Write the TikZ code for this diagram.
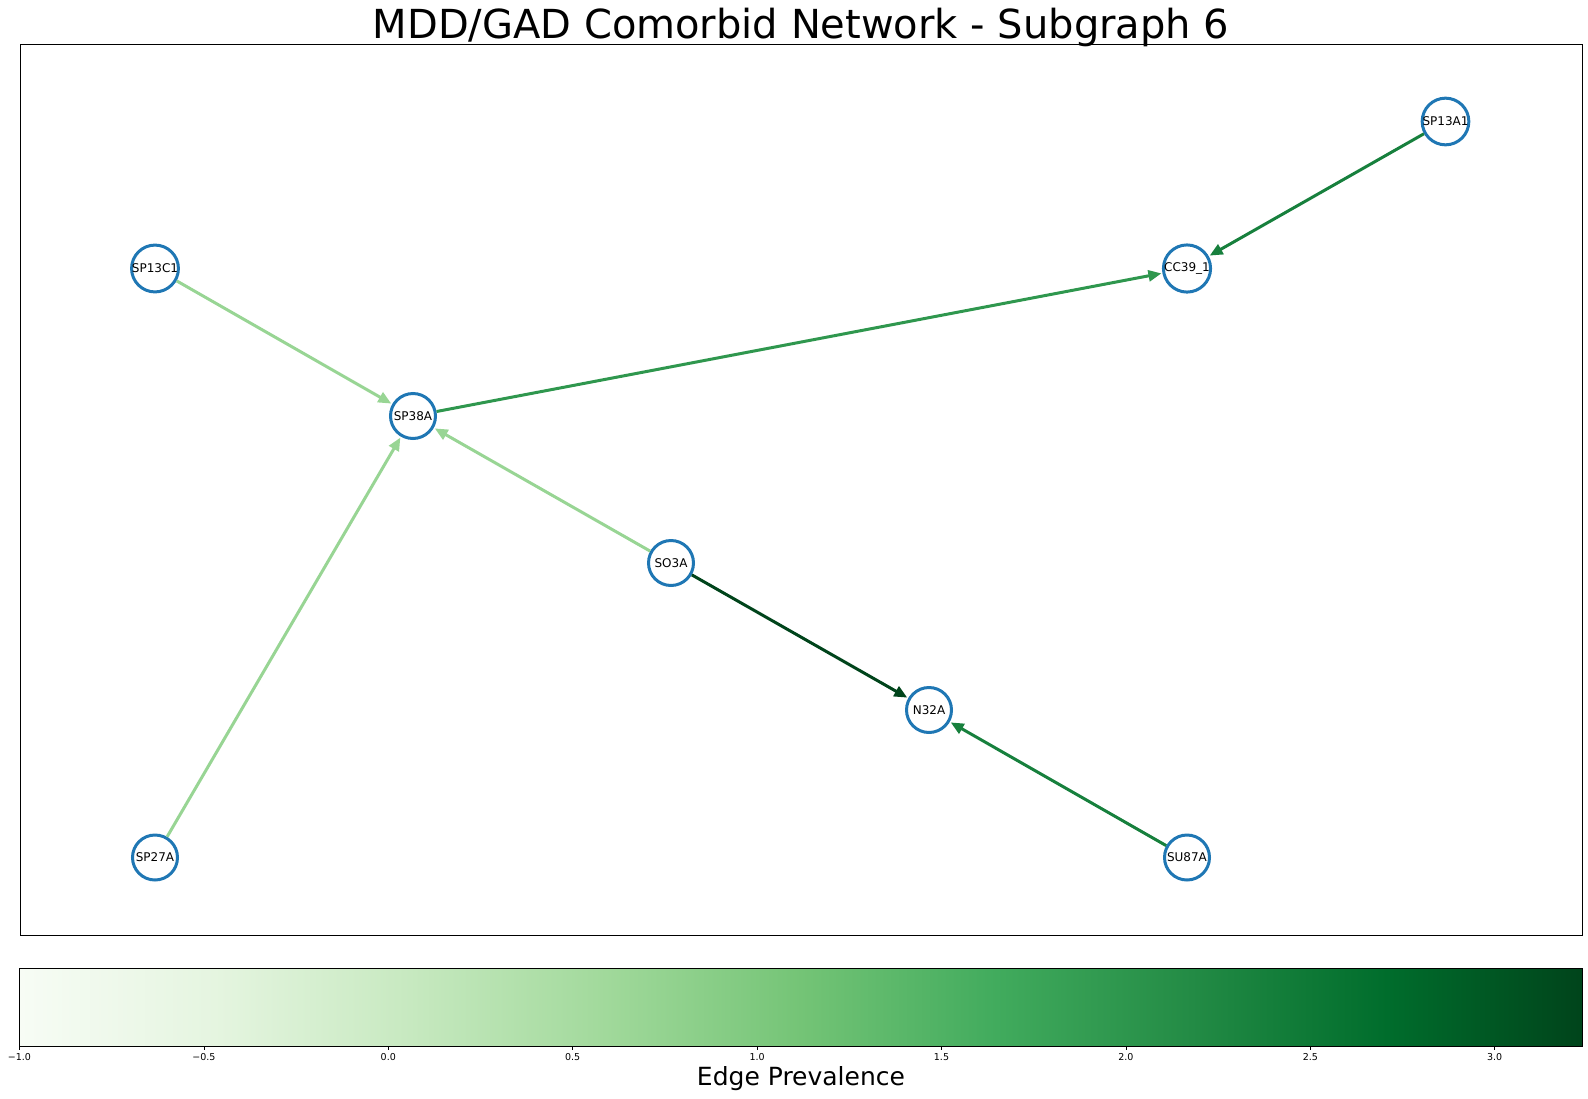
\documentclass[tikz,border=0pt]{standalone}
\usepackage{fontspec}
\setmainfont{DejaVu Sans}
\usetikzlibrary{arrows.meta}

% Greens colour map stops
\definecolor{g0}{HTML}{F7FCF5}
\definecolor{g1}{HTML}{E5F5E0}
\definecolor{g2}{HTML}{C7E9C0}
\definecolor{g3}{HTML}{A1D99B}
\definecolor{g4}{HTML}{74C476}
\definecolor{g5}{HTML}{41AB5D}
\definecolor{g6}{HTML}{238B45}
\definecolor{g7}{HTML}{006D2C}
\definecolor{g8}{HTML}{00441B}
\pgfdeclarehorizontalshading{greensmap}{100bp}{color(0bp)=(g0); color(25bp)=(g0);
  color(31.25bp)=(g1); color(37.5bp)=(g2); color(43.75bp)=(g3); color(50bp)=(g4);
  color(56.25bp)=(g5); color(62.5bp)=(g6); color(68.75bp)=(g7); color(75bp)=(g8);
  color(100bp)=(g8)}

\definecolor{nodeblue}{HTML}{1F77B4}
\definecolor{elight}{HTML}{98D594}
\definecolor{emid}{HTML}{2F974E}
\definecolor{edeep}{HTML}{17803D}
\definecolor{edark}{HTML}{00441B}

\tikzset{
  netnode/.style={circle, draw=nodeblue, line width=3pt, fill=white,
    minimum size=45pt, inner sep=0pt, font=\fontsize{12}{14}\selectfont},
  edgeline/.style={line width=3pt, -{Triangle[length=13pt,width=11pt]}, shorten >=1pt},
  ticklabel/.style={anchor=north, inner sep=0pt, font=\fontsize{9.5}{11}\selectfont}
}

\begin{document}
\begin{tikzpicture}[x=1pt, y=-1pt]
  \useasboundingbox (0,0) rectangle (1588,1098);

  % title and plot frame
  \node[anchor=base, inner sep=0pt, font=\fontsize{40}{48}\selectfont] (title) at (801,38.5)
    {MDD/GAD Comorbid Network - Subgraph 6};
  \draw[line width=1pt] (20,44) rectangle (1582,935);

  % network nodes
  \node[netnode] (SP13A1) at (1445.5,121.5) {SP13A1};
  \node[netnode] (CC39) at (1187,268.5) {CC39\_1};
  \node[netnode] (SP13C1) at (155,268.5) {SP13C1};
  \node[netnode] (SP38A) at (413,416) {SP38A};
  \node[netnode] (SO3A) at (671,563) {SO3A};
  \node[netnode] (N32A) at (929,710) {N32A};
  \node[netnode] (SP27A) at (155,857.5) {SP27A};
  \node[netnode] (SU87A) at (1187,857.5) {SU87A};

  % directed edges, coloured by prevalence
  \draw[edgeline, edeep] (SP13A1) -- (CC39);
  \draw[edgeline, emid] (SP38A) -- (CC39);
  \draw[edgeline, elight] (SP13C1) -- (SP38A);
  \draw[edgeline, elight] (SO3A) -- (SP38A);
  \draw[edgeline, elight] (SP27A) -- (SP38A);
  \draw[edgeline, edark] (SO3A) -- (N32A);
  \draw[edgeline, edeep] (SU87A) -- (N32A);

  % colour bar
  \shade[shading=greensmap] (19.5,968) rectangle (1582,1046);
  \draw[line width=1pt] (19.5,968) rectangle (1582,1046);
  \foreach \v/\t in {-1/−1.0, -0.5/−0.5, 0/0.0, 0.5/0.5, 1/1.0, 1.5/1.5, 2/2.0, 2.5/2.5, 3/3.0} {
    \pgfmathsetmacro\xx{19.5+(\v+1)*368.8}
    \draw[line width=0.8pt] (\xx,1046) -- (\xx,1050);
    \node[ticklabel] at (\xx,1053) {\t};
  }
  \node[anchor=base, inner sep=0pt, font=\fontsize{25}{30}\selectfont] (cblabel) at (801,1085)
    {Edge Prevalence};
\end{tikzpicture}
\end{document}
